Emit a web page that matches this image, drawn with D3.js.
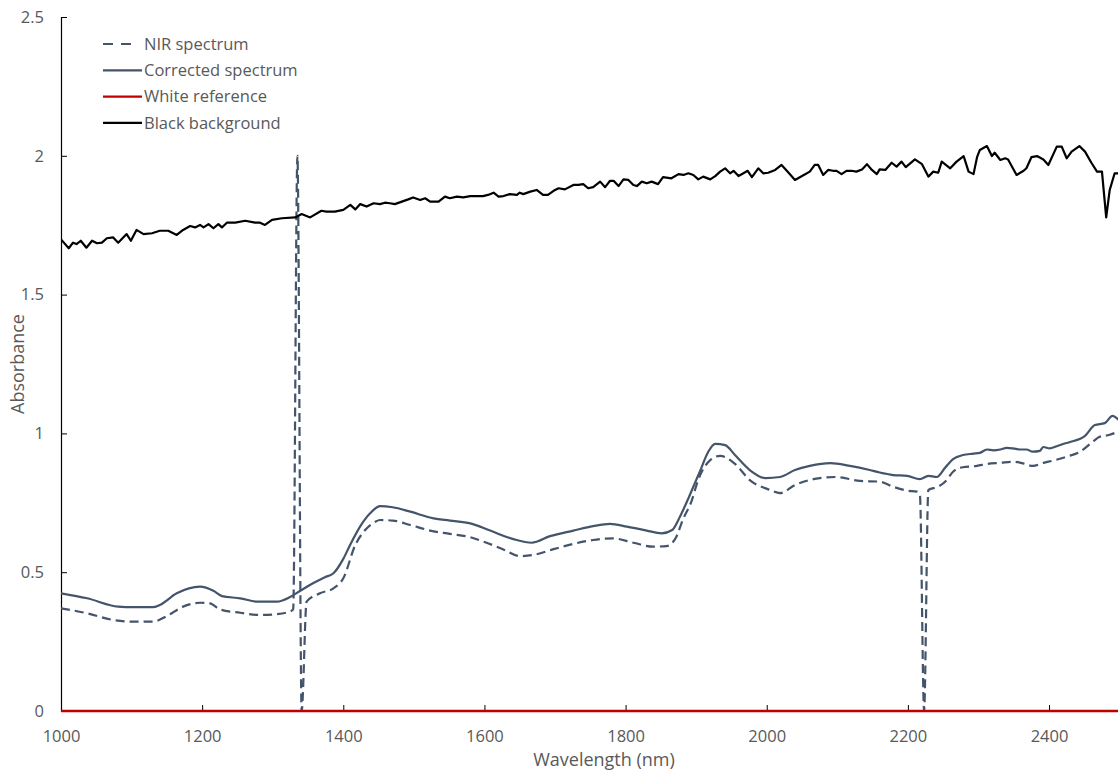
<!DOCTYPE html>
<html>
<head>
<meta charset="utf-8">
<script src="https://cdn.jsdelivr.net/npm/d3@7"></script>
<style>
  html, body { margin: 0; padding: 0; background: #fff; }
  svg text { font-family: "Open Sans", "Liberation Sans", sans-serif; fill: #595959; }
</style>
</head>
<body>
<svg id="chart" width="1118" height="771"></svg>
<script>
// Wavelength (nm) / absorbance pairs for each series
const nirWavelength = [1000,1037,1074,1102,1130,1150,1173,1197,1211,1225,1254,1282,1306,1324,1329,1335,1341,1348,1367,1386,1400,1417,1431,1445,1452,1470,1495,1523,1551,1580,1603,1626,1650,1669,1698,1726,1754,1782,1811,1839,1858,1872,1881,1894,1902,1920,1934,1955,1976,2005,2019,2040,2068,2097,2132,2160,2179,2199,2213,2217,2223,2229,2243,2255,2264,2278,2298,2312,2331,2349,2363,2377,2392,2406,2425,2444,2462,2471,2485,2500];
const nirAbsorbance = [0.370,0.352,0.328,0.322,0.322,0.342,0.376,0.390,0.388,0.366,0.354,0.346,0.349,0.358,0.366,2.0,0.0,0.394,0.424,0.442,0.478,0.598,0.652,0.681,0.688,0.686,0.670,0.650,0.638,0.626,0.606,0.583,0.558,0.562,0.583,0.602,0.616,0.622,0.606,0.592,0.594,0.628,0.688,0.760,0.826,0.904,0.919,0.890,0.832,0.796,0.785,0.814,0.836,0.843,0.829,0.826,0.808,0.794,0.790,0.780,0.0,0.796,0.808,0.832,0.862,0.878,0.883,0.890,0.894,0.898,0.892,0.883,0.894,0.902,0.916,0.934,0.970,0.987,0.994,1.009];

const correctedWavelength = [1000,1037,1081,1102,1130,1140,1164,1197,1216,1228,1254,1278,1306,1324,1339,1357,1374,1386,1400,1410,1424,1438,1452,1470,1495,1528,1551,1580,1608,1641,1667,1693,1726,1754,1778,1802,1830,1851,1866,1877,1889,1898,1905,1917,1927,1941,1955,1976,1998,2019,2040,2061,2090,2118,2146,2160,2179,2199,2217,2229,2241,2253,2264,2278,2293,2302,2312,2321,2331,2340,2349,2359,2368,2377,2387,2392,2401,2411,2420,2430,2451,2465,2479,2490,2500];
const correctedAbsorbance = [0.424,0.406,0.376,0.374,0.374,0.382,0.424,0.448,0.433,0.414,0.406,0.394,0.394,0.410,0.433,0.460,0.482,0.496,0.548,0.600,0.665,0.712,0.738,0.734,0.718,0.694,0.686,0.676,0.650,0.619,0.606,0.630,0.650,0.666,0.674,0.664,0.650,0.640,0.652,0.700,0.766,0.820,0.861,0.933,0.962,0.958,0.922,0.868,0.839,0.843,0.868,0.883,0.893,0.883,0.868,0.859,0.850,0.847,0.835,0.847,0.843,0.877,0.907,0.922,0.927,0.930,0.942,0.939,0.942,0.948,0.946,0.942,0.942,0.934,0.937,0.951,0.946,0.954,0.962,0.969,0.991,1.030,1.037,1.063,1.045];

const whiteWavelength = [1000,1250,1500,1750,2000,2250,2500];
const whiteAbsorbance = [0,0,0,0,0,0,0];

const blackWavelength = [1000,1011,1017,1022,1028,1036,1044,1051,1058,1065,1074,1081,1093,1099,1107,1117,1129,1140,1152,1164,1173,1183,1190,1197,1202,1209,1216,1223,1228,1235,1247,1261,1275,1282,1289,1299,1313,1332,1341,1353,1369,1376,1388,1400,1410,1417,1424,1433,1443,1452,1459,1466,1473,1483,1492,1499,1509,1516,1523,1535,1544,1551,1561,1570,1580,1598,1605,1613,1620,1627,1636,1646,1650,1655,1665,1674,1683,1690,1698,1705,1714,1726,1733,1740,1747,1754,1764,1771,1778,1783,1790,1797,1804,1811,1816,1823,1830,1837,1846,1853,1865,1875,1882,1889,1896,1903,1910,1920,1927,1934,1941,1948,1953,1960,1967,1973,1979,1988,1995,2002,2012,2021,2031,2040,2050,2061,2068,2073,2080,2087,2094,2099,2106,2113,2120,2127,2135,2142,2149,2156,2160,2168,2177,2184,2191,2197,2210,2220,2229,2236,2243,2248,2260,2269,2279,2286,2293,2298,2302,2312,2319,2323,2331,2338,2342,2354,2364,2368,2375,2383,2392,2399,2411,2418,2425,2432,2443,2451,2460,2468,2475,2481,2486,2493,2500];
const blackAbsorbance = [1.699,1.667,1.687,1.682,1.694,1.669,1.694,1.685,1.687,1.703,1.706,1.687,1.718,1.694,1.733,1.718,1.721,1.730,1.730,1.715,1.733,1.747,1.742,1.751,1.742,1.754,1.739,1.754,1.742,1.759,1.759,1.766,1.759,1.759,1.751,1.769,1.775,1.778,1.790,1.778,1.802,1.799,1.799,1.805,1.823,1.807,1.826,1.817,1.829,1.826,1.831,1.829,1.826,1.835,1.843,1.850,1.841,1.847,1.835,1.835,1.853,1.847,1.853,1.850,1.855,1.855,1.859,1.867,1.853,1.855,1.862,1.859,1.867,1.862,1.871,1.877,1.859,1.859,1.874,1.883,1.879,1.895,1.895,1.898,1.883,1.887,1.907,1.887,1.910,1.910,1.891,1.915,1.913,1.895,1.891,1.907,1.901,1.907,1.898,1.923,1.919,1.934,1.931,1.937,1.931,1.915,1.925,1.915,1.927,1.943,1.955,1.937,1.946,1.927,1.937,1.946,1.923,1.955,1.937,1.939,1.949,1.967,1.939,1.913,1.927,1.943,1.967,1.967,1.931,1.949,1.946,1.946,1.934,1.946,1.946,1.943,1.951,1.970,1.949,1.934,1.951,1.949,1.975,1.961,1.979,1.959,1.987,1.970,1.925,1.943,1.939,1.979,1.955,1.979,1.999,1.943,1.934,1.995,2.021,2.035,1.999,2.011,1.985,1.991,1.987,1.931,1.946,1.955,1.995,1.999,1.987,1.967,2.033,2.033,1.991,2.015,2.035,2.015,1.975,1.943,1.943,1.778,1.877,1.937,1.937];

const xTicks = [1000,1200,1400,1600,1800,2000,2200,2400];
const yTicks = [0,0.5,1,1.5,2,2.5];
const yTickLabels = ["0","0.5","1","1.5","2","2.5"];

const seriesNames = ["NIR spectrum","Corrected spectrum","White reference","Black background"];
const seriesColors = ["#44546A","#44546A","#C00000","#000000"];
const seriesDashes = ["9,5",null,null,null];

const svg = d3.select("#chart");
const margin = {left: 61, top: 17, right: -1.6, bottom: 60};
const width = 1118, height = 771;

const x = d3.scaleLinear().domain([1000, 2500]).range([margin.left, width - margin.right]);
const y = d3.scaleLinear().domain([0, 2.5]).range([height - margin.bottom, margin.top]);

const toPoints = (w, a) => w.map((v, i) => [v, a[i]]);
const series = [
  toPoints(nirWavelength, nirAbsorbance),
  toPoints(correctedWavelength, correctedAbsorbance),
  toPoints(whiteWavelength, whiteAbsorbance),
  toPoints(blackWavelength, blackAbsorbance)
];

svg.append("defs").append("clipPath").attr("id", "plot-clip")
  .append("rect").attr("x", margin.left).attr("y", 0)
  .attr("width", width - margin.left).attr("height", height);

// Axes: ticks point inward, no gridlines
const xAxis = svg.append("g")
  .attr("transform", `translate(0,${y(0)})`)
  .call(d3.axisBottom(x).tickValues(xTicks).tickSize(-6).tickPadding(19).tickFormat(d3.format("d")));
xAxis.select(".domain").attr("stroke", "#000").attr("stroke-width", 1);
xAxis.selectAll(".tick line").attr("stroke", "#000");
xAxis.selectAll(".tick text").attr("font-size", 16.5).attr("fill", "#595959")
  .attr("font-family", "'Open Sans', sans-serif");

const yAxis = svg.append("g")
  .attr("transform", `translate(${margin.left},0)`)
  .call(d3.axisLeft(y).tickValues(yTicks).tickSize(-6).tickPadding(17)
    .tickFormat((d, i) => yTickLabels[i]));
yAxis.select(".domain").attr("stroke", "#000").attr("stroke-width", 1.2);
yAxis.selectAll(".tick line").attr("stroke", "#000");
yAxis.selectAll(".tick text").attr("font-size", 16.5).attr("fill", "#595959")
  .attr("font-family", "'Open Sans', sans-serif");

// Series lines, drawn in legend order
const plot = svg.append("g").attr("clip-path", "url(#plot-clip)");
series.forEach((pts, i) => {
  const line = d3.line()
    .x(d => x(d[0])).y(d => y(d[1]))
    .curve(i < 2 ? d3.curveMonotoneX : d3.curveLinear);
  plot.append("path")
    .datum(pts)
    .attr("fill", "none")
    .attr("stroke", seriesColors[i])
    .attr("stroke-width", i === 2 ? 2.5 : 2.2)
    .attr("stroke-linejoin", "round")
    .attr("stroke-dasharray", seriesDashes[i])
    .attr("d", line);
});

// Legend: the dashed sample shows two dashes, solid samples run up to the label
const legend = svg.append("g").attr("transform", "translate(103,44)");
seriesNames.forEach((name, i) => {
  const row = legend.append("g").attr("transform", `translate(0,${i * 26.3})`);
  row.append("line")
    .attr("x1", 0).attr("x2", i === 0 ? 28 : 39).attr("y1", 0).attr("y2", 0)
    .attr("stroke", seriesColors[i]).attr("stroke-width", 2.2)
    .attr("stroke-dasharray", i === 0 ? "10,8" : null);
  row.append("text")
    .attr("x", 41).attr("y", 0).attr("dy", "0.35em")
    .attr("font-size", 16.5).text(name);
});

// Axis titles
svg.append("text")
  .attr("x", 604).attr("y", 760).attr("dy", "0.35em")
  .attr("text-anchor", "middle").attr("font-size", 18)
  .text("Wavelength (nm)");
svg.append("text")
  .attr("transform", "translate(18,364) rotate(-90)")
  .attr("dy", "0.35em")
  .attr("text-anchor", "middle").attr("font-size", 18)
  .text("Absorbance");
</script>
</body>
</html>
